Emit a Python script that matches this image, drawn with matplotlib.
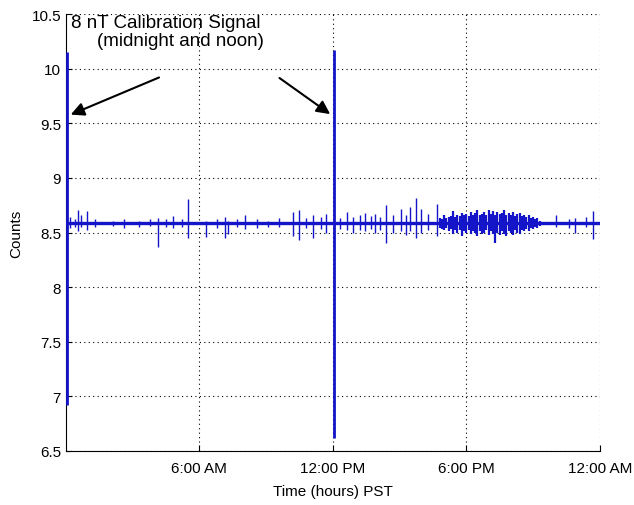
import matplotlib.pyplot as plt

plt.rcParams['font.family'] = ['Liberation Sans', 'DejaVu Sans']

# baseline level of the magnetometer counts
baseline = 8.585

# calibration pulses (midnight and noon): time, top, bottom
cal_t = [0.03, 12.05]
cal_hi = [10.15, 10.17]
cal_lo = [6.92, 6.62]

# small disturbances: time (h), high, low
spike_t = [0.2, 0.4, 0.55, 0.67, 0.93, 1.3, 2.1, 2.6, 3.3, 3.8, 4.15, 4.5, 4.82, 5.2, 5.5,
           6.28, 6.8, 7.15, 7.3, 7.7, 8.07, 8.6, 9.1, 9.6, 10.2, 10.49, 10.8, 11.1, 11.45, 11.7,
           12.3, 12.64, 12.9, 13.2, 13.44, 13.7, 13.9, 14.1, 14.38, 14.7, 15.06, 15.3, 15.46,
           15.73, 15.96, 16.3, 16.69, 22.05, 22.6, 22.9, 23.4, 23.7]
spike_hi = [8.64, 8.62, 8.71, 8.66, 8.70, 8.62, 8.61, 8.62, 8.61, 8.62, 8.63, 8.62, 8.65, 8.62, 8.81,
            8.61, 8.62, 8.64, 8.61, 8.62, 8.66, 8.62, 8.61, 8.63, 8.69, 8.71, 8.63, 8.66, 8.64, 8.67,
            8.63, 8.69, 8.64, 8.66, 8.68, 8.65, 8.67, 8.64, 8.75, 8.66, 8.72, 8.66, 8.73,
            8.82, 8.72, 8.67, 8.76, 8.66, 8.62, 8.63, 8.64, 8.70]
spike_lo = [8.54, 8.55, 8.51, 8.55, 8.52, 8.55, 8.56, 8.54, 8.55, 8.56, 8.37, 8.55, 8.54, 8.55, 8.45,
            8.46, 8.54, 8.45, 8.49, 8.55, 8.53, 8.54, 8.55, 8.55, 8.47, 8.43, 8.54, 8.45, 8.53, 8.50,
            8.53, 8.52, 8.50, 8.52, 8.51, 8.53, 8.50, 8.52, 8.40, 8.50, 8.51, 8.48, 8.51,
            8.45, 8.50, 8.52, 8.47, 8.55, 8.54, 8.50, 8.55, 8.44]

# noisier stretch in the evening, sampled densely off the picture
band_t = [16.8, 16.9, 17.0, 17.1, 17.2, 17.3, 17.38, 17.5, 17.6, 17.7, 17.8, 17.9, 18.0, 18.1,
          18.2, 18.3, 18.4, 18.5, 18.6, 18.7, 18.8, 18.9, 19.0, 19.1, 19.2, 19.3, 19.4, 19.5,
          19.6, 19.7, 19.8, 19.9, 20.0, 20.1, 20.2, 20.3, 20.4, 20.5, 20.6, 20.7, 20.8, 20.9,
          21.0, 21.1, 21.2, 21.3]
band_hi = [8.63, 8.62, 8.66, 8.63, 8.64, 8.65, 8.70, 8.64, 8.66, 8.65, 8.68, 8.66, 8.67, 8.65,
           8.69, 8.66, 8.68, 8.71, 8.66, 8.67, 8.69, 8.66, 8.71, 8.67, 8.70, 8.66, 8.69, 8.67,
           8.68, 8.71, 8.66, 8.68, 8.66, 8.69, 8.65, 8.67, 8.68, 8.65, 8.66, 8.64, 8.66, 8.63,
           8.64, 8.62, 8.63, 8.61]
band_lo = [8.54, 8.53, 8.52, 8.54, 8.51, 8.53, 8.49, 8.52, 8.50, 8.52, 8.47, 8.51, 8.50, 8.52,
           8.49, 8.51, 8.50, 8.47, 8.51, 8.49, 8.50, 8.52, 8.48, 8.51, 8.49, 8.40, 8.50, 8.48,
           8.51, 8.49, 8.47, 8.51, 8.50, 8.48, 8.52, 8.50, 8.49, 8.52, 8.51, 8.53, 8.51, 8.54,
           8.53, 8.55, 8.54, 8.56]

xticks = [6, 12, 18, 24]
xlabels = ['6:00 AM', '12:00 PM', '6:00 PM', '12:00 AM']
yticks = [6.5, 7, 7.5, 8, 8.5, 9, 9.5, 10, 10.5]

blue = '#1414c8'

fig = plt.figure(figsize=(6.34, 5.06), dpi=100)
ax = fig.add_axes([0.104, 0.107, 0.842, 0.863])

ax.axhline(baseline, color=blue, lw=2.4, zorder=3)
ax.vlines(band_t, band_lo, band_hi, color=blue, lw=1.6, zorder=3)
ax.vlines(spike_t, spike_lo, spike_hi, color=blue, lw=1.0, zorder=3)
ax.vlines(cal_t, cal_lo, cal_hi, color=blue, lw=2.0, zorder=4, clip_on=False)

ax.set_xlim(0, 24)
ax.set_ylim(6.5, 10.5)
ax.set_xticks(xticks)
ax.set_xticklabels(xlabels)
ax.set_yticks(yticks)
ax.set_yticklabels(['%g' % v for v in yticks])
ax.tick_params(direction='in', length=4, labelsize=11, top=False, right=False)
ax.tick_params(axis='x', pad=7)
ax.grid(True, color='black', linestyle=(0, (1, 3)), lw=0.8)
ax.spines['top'].set_visible(False)
ax.spines['right'].set_visible(False)
ax.set_xlabel('Time (hours) PST', fontsize=11, labelpad=7)
ax.set_ylabel('Counts', fontsize=11, labelpad=6)

ax.text(0.25, 10.50, '8 nT Calibration Signal', fontsize=13.5, va='top', ha='left')
ax.text(5.17, 10.335, '(midnight and noon)', fontsize=13.5, va='top', ha='center')

arrow = dict(arrowstyle='-|>', color='black', lw=1.5, mutation_scale=20)
ax.annotate('', xy=(0.1, 9.57), xytext=(4.3, 9.93), arrowprops=arrow)
ax.annotate('', xy=(11.98, 9.57), xytext=(9.5, 9.93), arrowprops=arrow)

fig.savefig('out.png', dpi=100)
